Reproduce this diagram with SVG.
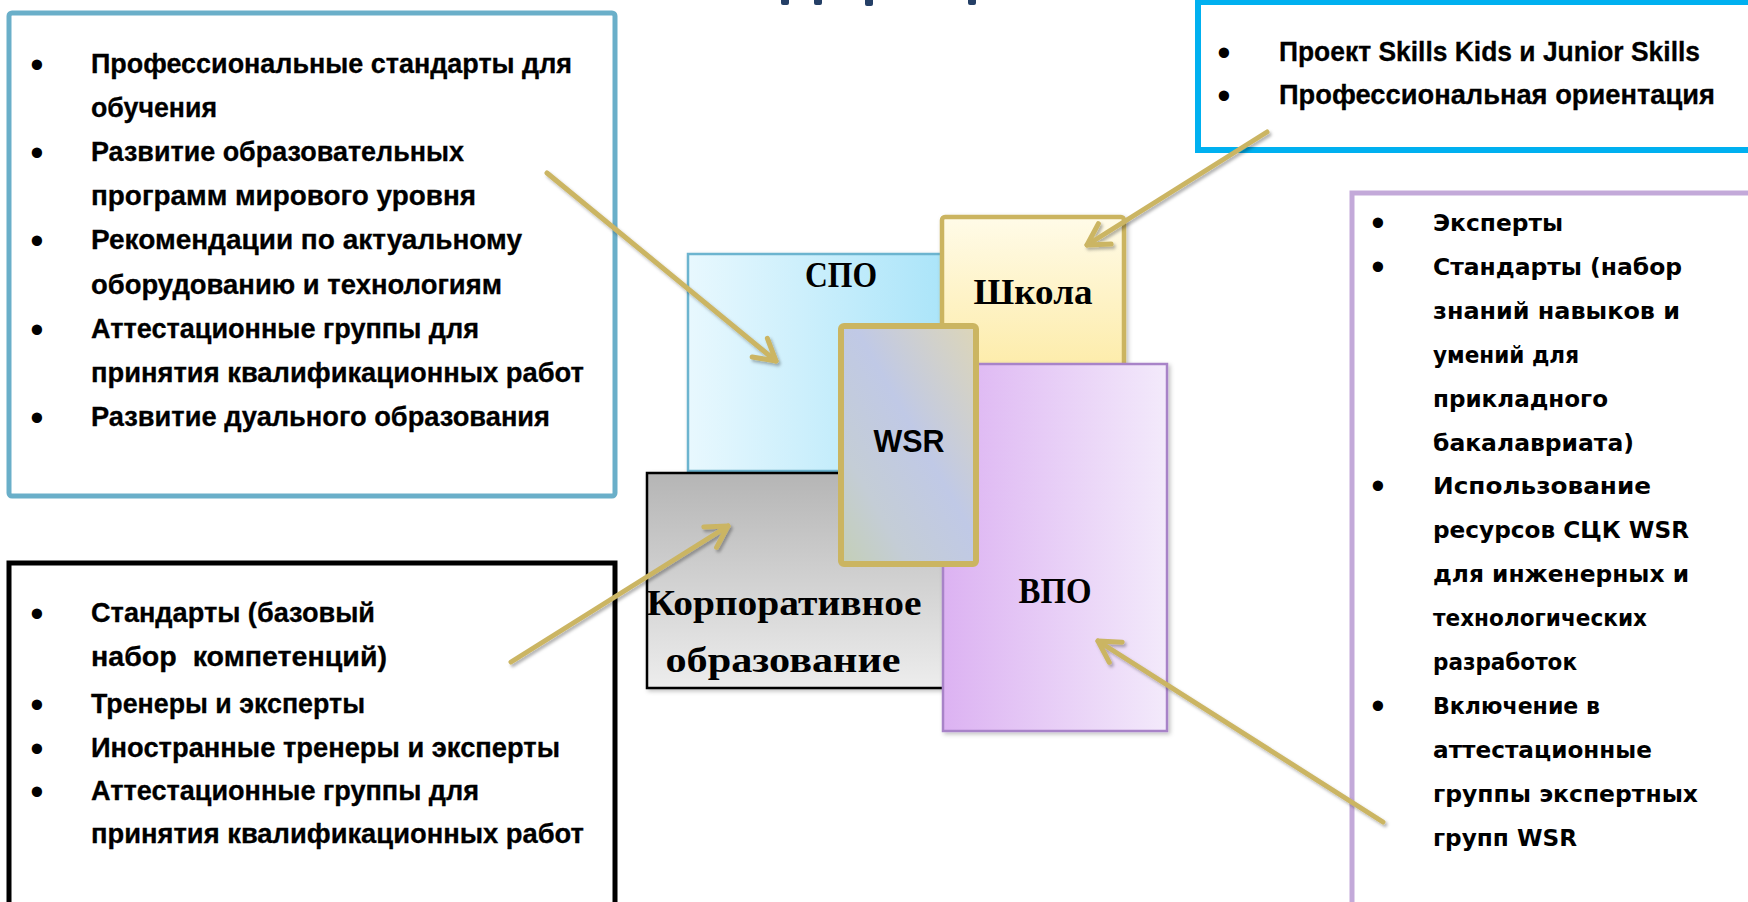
<svg xmlns="http://www.w3.org/2000/svg" width="1748" height="902" viewBox="0 0 1748 902">
<style>
.t{font-family:"Liberation Sans",Arial,sans-serif;font-weight:bold;font-size:27px;fill:#000;stroke:#000;stroke-width:0.3}
.r{font-family:"DejaVu Sans",Verdana,sans-serif;font-weight:bold;font-size:23px;fill:#000}
.b{font-family:"Liberation Sans",Arial,sans-serif;font-size:38px;fill:#000;text-anchor:middle}
.s{font-family:"Liberation Serif","Times New Roman",serif;font-weight:bold;font-size:35px;fill:#000;text-anchor:middle}
.w{font-family:"Liberation Sans",Arial,sans-serif;font-weight:bold;font-size:32px;fill:#000;text-anchor:middle}
.conn{stroke:#cbb563;stroke-width:5;fill:none;stroke-linecap:round;marker-end:url(#ah);filter:url(#sh)}
</style>
<defs>
<marker id="ah" markerUnits="userSpaceOnUse" markerWidth="40" markerHeight="40" refX="0" refY="0" viewBox="-30 -20 40 40" orient="auto" overflow="visible">
<path d="M-21,-12 L0,0 L-21,12" fill="none" stroke="#cbb563" stroke-width="5" stroke-linecap="round" stroke-linejoin="round"/>
</marker>
<filter id="sh" x="-20%" y="-20%" width="140%" height="140%">
<feDropShadow dx="2" dy="2.5" stdDeviation="1.5" flood-color="#000" flood-opacity="0.3"/>
</filter>
<filter id="bs" x="-10%" y="-10%" width="120%" height="120%">
<feDropShadow dx="2" dy="2" stdDeviation="2" flood-color="#000" flood-opacity="0.25"/>
</filter>
<linearGradient id="gSpo" x1="0" y1="0" x2="1" y2="0">
<stop offset="0" stop-color="#e8f8fe"/><stop offset="1" stop-color="#a6e3f9"/>
</linearGradient>
<linearGradient id="gShk" x1="0" y1="0" x2="0" y2="1">
<stop offset="0" stop-color="#fffbe8"/><stop offset="1" stop-color="#fdeba6"/>
</linearGradient>
<linearGradient id="gVpo" x1="0" y1="0" x2="1" y2="0">
<stop offset="0" stop-color="#dcb2f2"/><stop offset="1" stop-color="#f3eafb"/>
</linearGradient>
<linearGradient id="gKorp" x1="0" y1="0" x2="0" y2="1">
<stop offset="0" stop-color="#b5b5b5"/><stop offset="1" stop-color="#ededed"/>
</linearGradient>
<linearGradient id="gWsr" x1="1" y1="0" x2="0" y2="1">
<stop offset="0" stop-color="#ddd6b8"/><stop offset="0.45" stop-color="#c0c9e6"/><stop offset="0.75" stop-color="#c4cdd6"/><stop offset="1" stop-color="#c4cfb6"/>
</linearGradient>
</defs>
<rect width="1748" height="902" fill="#fff"/>
<g id="title-fragments" fill="#243f66">
<rect x="781" y="-4" width="8" height="9" rx="2"/>
<rect x="814" y="-4" width="8" height="9" rx="2"/>
<rect x="865" y="-4" width="8" height="10" rx="2"/>
<rect x="968" y="-4" width="8" height="9" rx="2"/>
</g>
<g id="box-spo-info">
<rect x="9" y="13" width="606" height="483" rx="3" fill="#fff" stroke="#6aafc9" stroke-width="5"/>
<text class="b" x="37" y="77.5">•</text>
<text class="t" x="91" y="72.5" textLength="481" lengthAdjust="spacingAndGlyphs">Профессиональные стандарты для</text>
<text class="t" x="91" y="116.7" textLength="126" lengthAdjust="spacingAndGlyphs">обучения</text>
<text class="b" x="37" y="165.9">•</text>
<text class="t" x="91" y="160.9" textLength="373" lengthAdjust="spacingAndGlyphs">Развитие образовательных</text>
<text class="t" x="91" y="205.1" textLength="385" lengthAdjust="spacingAndGlyphs">программ мирового уровня</text>
<text class="b" x="37" y="254.3">•</text>
<text class="t" x="91" y="249.3" textLength="431" lengthAdjust="spacingAndGlyphs">Рекомендации по актуальному</text>
<text class="t" x="91" y="293.5" textLength="411" lengthAdjust="spacingAndGlyphs">оборудованию и технологиям</text>
<text class="b" x="37" y="342.7">•</text>
<text class="t" x="91" y="337.7" textLength="388" lengthAdjust="spacingAndGlyphs">Аттестационные группы для</text>
<text class="t" x="91" y="381.9" textLength="493" lengthAdjust="spacingAndGlyphs">принятия квалификационных работ</text>
<text class="b" x="37" y="431.1">•</text>
<text class="t" x="91" y="426.1" textLength="459" lengthAdjust="spacingAndGlyphs">Развитие дуального образования</text>
</g>
<g id="box-korp-info">
<rect x="9" y="563" width="606" height="360" fill="#fff" stroke="#000" stroke-width="5"/>
<text class="b" x="37" y="627">•</text>
<text class="t" x="91" y="622" textLength="284" lengthAdjust="spacingAndGlyphs">Стандарты (базовый</text>
<text class="t" x="91" y="666" textLength="296" lengthAdjust="spacingAndGlyphs" xml:space="preserve">набор  компетенций)</text>
<text class="b" x="37" y="718">•</text>
<text class="t" x="91" y="713" textLength="274" lengthAdjust="spacingAndGlyphs">Тренеры и эксперты</text>
<text class="b" x="37" y="762">•</text>
<text class="t" x="91" y="757" textLength="469" lengthAdjust="spacingAndGlyphs">Иностранные тренеры и эксперты</text>
<text class="b" x="37" y="805">•</text>
<text class="t" x="91" y="800" textLength="388" lengthAdjust="spacingAndGlyphs">Аттестационные группы для</text>
<text class="t" x="91" y="843" textLength="493" lengthAdjust="spacingAndGlyphs">принятия квалификационных работ</text>
</g>
<g id="box-school-info">
<rect x="1198" y="2" width="560" height="148" fill="#fff" stroke="#00b0f0" stroke-width="6"/>
<text class="b" x="1224" y="66">•</text>
<text class="t" x="1279" y="61" textLength="421" lengthAdjust="spacingAndGlyphs">Проект Skills Kids и Junior Skills</text>
<text class="b" x="1224" y="109">•</text>
<text class="t" x="1279" y="104" textLength="436" lengthAdjust="spacingAndGlyphs">Профессиональная ориентация</text>
</g>
<g id="box-vpo-info">
<rect x="1352" y="193" width="410" height="730" fill="#fff" stroke="#c3a9d9" stroke-width="5"/>
<text class="b" x="1378" y="236">•</text>
<text class="r" x="1433" y="231" textLength="130" lengthAdjust="spacingAndGlyphs">Эксперты</text>
<text class="b" x="1378" y="279.9">•</text>
<text class="r" x="1433" y="274.9" textLength="249" lengthAdjust="spacingAndGlyphs">Стандарты (набор</text>
<text class="r" x="1433" y="318.8" textLength="247" lengthAdjust="spacingAndGlyphs">знаний навыков и</text>
<text class="r" x="1433" y="362.7" textLength="146" lengthAdjust="spacingAndGlyphs">умений для</text>
<text class="r" x="1433" y="406.6" textLength="175" lengthAdjust="spacingAndGlyphs">прикладного</text>
<text class="r" x="1433" y="450.5" textLength="201" lengthAdjust="spacingAndGlyphs">бакалавриата)</text>
<text class="b" x="1378" y="499.4">•</text>
<text class="r" x="1433" y="494.4" textLength="218" lengthAdjust="spacingAndGlyphs">Использование</text>
<text class="r" x="1433" y="538.3" textLength="256" lengthAdjust="spacingAndGlyphs">ресурсов СЦК WSR</text>
<text class="r" x="1433" y="582.2" textLength="256" lengthAdjust="spacingAndGlyphs">для инженерных и</text>
<text class="r" x="1433" y="626.1" textLength="214" lengthAdjust="spacingAndGlyphs">технологических</text>
<text class="r" x="1433" y="670" textLength="144" lengthAdjust="spacingAndGlyphs">разработок</text>
<text class="b" x="1378" y="718.9">•</text>
<text class="r" x="1433" y="713.9" textLength="167" lengthAdjust="spacingAndGlyphs">Включение в</text>
<text class="r" x="1433" y="757.8" textLength="219" lengthAdjust="spacingAndGlyphs">аттестационные</text>
<text class="r" x="1433" y="801.7" textLength="265" lengthAdjust="spacingAndGlyphs">группы экспертных</text>
<text class="r" x="1433" y="845.6" textLength="144" lengthAdjust="spacingAndGlyphs">групп WSR</text>
</g>
<g id="node-spo">
<rect x="688" y="254" width="275" height="217" fill="url(#gSpo)" stroke="#6cb4cf" stroke-width="2.5" filter="url(#bs)"/>
<text class="s" x="841" y="287" textLength="72" lengthAdjust="spacingAndGlyphs">СПО</text>
</g>
<g id="node-school">
<rect x="942" y="217" width="182" height="160" rx="3" fill="url(#gShk)" stroke="#cbb461" stroke-width="4.5" filter="url(#bs)"/>
<text class="s" x="1033" y="304" textLength="119" lengthAdjust="spacingAndGlyphs">Школа</text>
</g>
<g id="node-korp">
<rect x="647" y="473" width="320" height="215" fill="url(#gKorp)" stroke="#000" stroke-width="2.5" filter="url(#bs)"/>
<text class="s" x="784" y="615" textLength="275" lengthAdjust="spacingAndGlyphs">Корпоративное</text>
<text class="s" x="783" y="672" textLength="235" lengthAdjust="spacingAndGlyphs">образование</text>
</g>
<g id="node-vpo">
<rect x="943" y="364" width="224" height="367" fill="url(#gVpo)" stroke="#a883c8" stroke-width="2.5" filter="url(#bs)"/>
<text class="s" x="1055" y="603" textLength="73" lengthAdjust="spacingAndGlyphs">ВПО</text>
</g>
<g id="node-wsr">
<rect x="841" y="326" width="135" height="238" rx="3" fill="url(#gWsr)" stroke="#cbb561" stroke-width="6"/>
<text class="w" x="909" y="452" textLength="71" lengthAdjust="spacingAndGlyphs">WSR</text>
</g>
<g id="connectors">
<line class="conn" x1="547" y1="173" x2="776" y2="361"/>
<line class="conn" x1="511" y1="662" x2="728" y2="526"/>
<line class="conn" x1="1267" y1="132" x2="1087" y2="245"/>
<line class="conn" x1="1383" y1="822" x2="1098" y2="641"/>
</g>
</svg>
